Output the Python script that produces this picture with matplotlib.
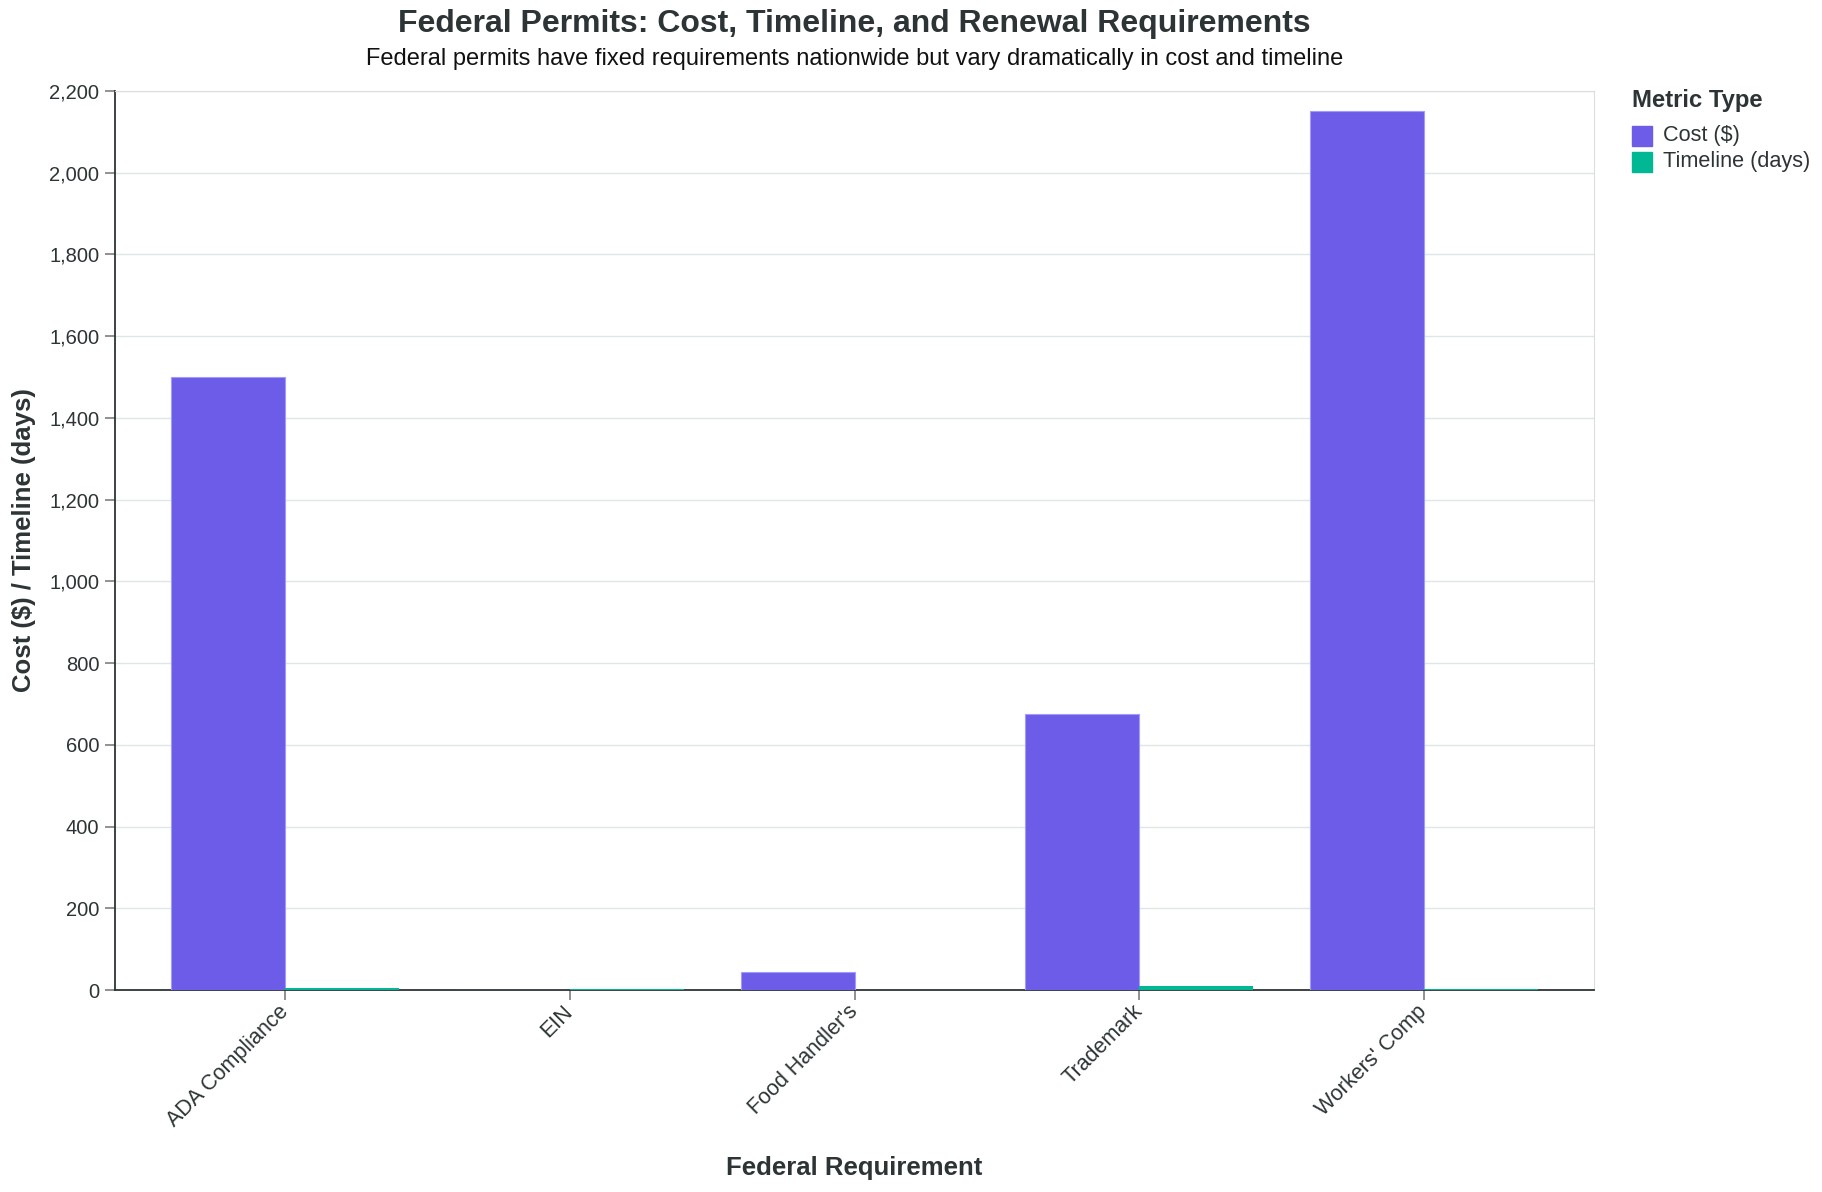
import matplotlib
matplotlib.use("Agg")
import matplotlib.pyplot as plt
import numpy as np
from matplotlib.patches import Rectangle

categories = ["ADA Compliance", "EIN", "Food Handler's", "Trademark", "Workers' Comp"]
cost_values = [1500, 0, 45, 675, 2150]
timeline_values = [5, 2, 0, 10, 3]
series_labels = ["Cost ($)", "Timeline (days)"]
y_ticks = [0, 200, 400, 600, 800, 1000, 1200, 1400, 1600, 1800, 2000, 2200]

plt.rcParams['font.family'] = ['Liberation Sans', 'DejaVu Sans']
W, H = 1822, 1192
fig = plt.figure(figsize=(W / 100, H / 100), dpi=100)
L, R, T, B = 115, 1594, 91, 990
ax = fig.add_axes([L / W, 1 - B / H, (R - L) / W, (B - T) / H])

dark = "#2d3436"
purple = "#6c5ce7"
teal = "#00b894"
x = np.arange(len(categories))
bw = 0.40
ax.bar(x - bw / 2, cost_values, width=bw, color=purple, edgecolor="#a29bfe", linewidth=0.8, zorder=3)
ax.bar(x + bw / 2, timeline_values, width=bw, color=teal, linewidth=0, zorder=3)

outer = 0.597
ax.set_xlim(-outer, len(categories) - 1 + outer)
ax.set_ylim(0, 2200)
ax.set_yticks(y_ticks)
ax.set_yticklabels([f"{v:,}" for v in y_ticks], fontsize=14.5, color=dark)
ax.set_xticks(x)
ax.set_xticklabels(categories, rotation=45, ha="right", va="center", rotation_mode="anchor",
                   fontsize=15.5, color=dark)
ax.grid(axis="y", color="#dfe6e9", linewidth=1, zorder=0)
ax.set_axisbelow(True)
for s in ["top", "right"]:
    ax.spines[s].set_color("#dddddd")
for s in ["left", "bottom"]:
    ax.spines[s].set_color(dark)
    ax.spines[s].set_linewidth(1.3)
ax.tick_params(axis="both", length=7.2, color="#888888", width=1.3)
ax.tick_params(axis="y", pad=4)
ax.tick_params(axis="x", pad=6)
ax.set_xlabel("Federal Requirement", fontsize=18.5, fontweight="bold", color=dark)
ax.xaxis.set_label_coords(0.5, -(1168 - B) / (B - T))
ax.set_ylabel("Cost ($) / Timeline (days)", fontsize=18.5, fontweight="bold", color=dark)
ax.yaxis.set_label_coords(-(L - 24) / (R - L), 0.5)
ax.yaxis.label.set_va("center")
ax.xaxis.label.set_va("center")

fig.text((L + R) / 2 / W, 1 - 24 / H, "Federal Permits: Cost, Timeline, and Renewal Requirements",
         ha="center", va="center", fontsize=23, fontweight="bold", color=dark)
fig.text((L + R) / 2 / W, 1 - 59 / H, "Federal permits have fixed requirements nationwide but vary dramatically in cost and timeline",
         ha="center", va="center", fontsize=17, color="#111111")

# legend
lx = 1632
fig.text(lx / W, 1 - 101 / H, "Metric Type", ha="left", va="center", fontsize=17.2, fontweight="bold", color=dark)
for i, (lab, col) in enumerate(zip(series_labels, [purple, teal])):
    yc = 136 + i * 26
    fig.patches.append(Rectangle((lx / W, 1 - (yc + 10) / H), 20 / W, 20 / H,
                                 transform=fig.transFigure, color=col))
    fig.text((lx + 31) / W, 1 - yc / H, lab, ha="left", va="center", fontsize=15.6, color=dark)

fig.savefig("out.png", dpi=100)
